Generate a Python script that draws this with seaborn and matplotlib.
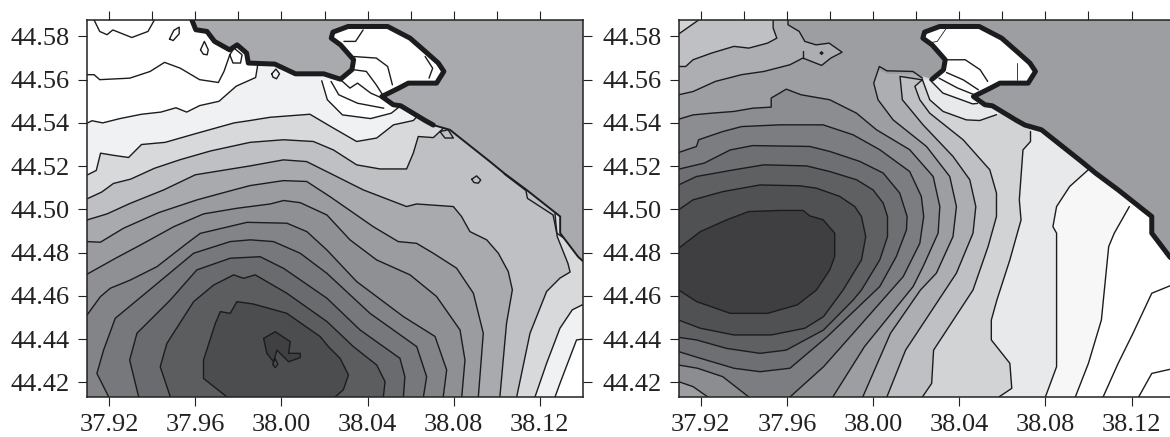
import pandas as pd
import matplotlib.pyplot as plt
import seaborn as sns

# Axis ranges and ticks (degrees)
LON0, LON1 = 37.9097, 38.14
LAT0, LAT1 = 44.4132, 44.5876
lon_ticks = [37.92, 37.96, 38.00, 38.04, 38.08, 38.12]
lon_minor = [37.94, 37.98, 38.02, 38.06, 38.10]
lat_ticks = [44.42, 44.44, 44.46, 44.48, 44.50, 44.52, 44.54, 44.56, 44.58]

# Coastline
coast_west = [(37.9584, 44.5876), (37.9602, 44.5831), (37.9654, 44.5823), (37.9689, 44.5777), (37.9759, 44.5738),
              (37.9794, 44.5761), (37.9838, 44.5723), (37.9846, 44.5677), (37.9969, 44.5672), (38.0065, 44.5627),
              (38.0196, 44.5627), (38.0274, 44.5602)]
coast_bay = [(38.0274, 44.5602), (38.0327, 44.5646), (38.0335, 44.5692), (38.0274, 44.5761), (38.0231, 44.5792),
             (38.0239, 44.5820), (38.0309, 44.5846), (38.0493, 44.5846), (38.0597, 44.5792), (38.0667, 44.5731),
             (38.0728, 44.5677), (38.0754, 44.5638), (38.0720, 44.5584), (38.0589, 44.5584), (38.0545, 44.5561),
             (38.0466, 44.5522), (38.0519, 44.5484), (38.0554, 44.5479), (38.0667, 44.5411), (38.0705, 44.5390)]
coast_east = [(38.0705, 44.5390), (38.0782, 44.5368), (38.0968, 44.5221), (38.1034, 44.5167), (38.1138, 44.5090),
              (38.1294, 44.4967), (38.1294, 44.4890), (38.1377, 44.4781), (38.14, 44.476)]

# Waypoints on land, used to close the fills around the bay
bay_land = [(38.08, 44.55), (38.08, 44.59), (38.022, 44.59), (38.022, 44.565), (38.0274, 44.5602)]

# Left panel isolines, light to dark
l1a = [(37.910, 44.540), (37.912, 44.541), (37.917, 44.540), (37.925, 44.542), (37.935, 44.544), (37.944, 44.545),
       (37.951, 44.547), (37.956, 44.545), (37.962, 44.548), (37.971, 44.550), (37.979, 44.557), (37.988, 44.561),
       (37.989, 44.567)]
l1b = [(38.14, 44.440), (38.137, 44.4396), (38.1293, 44.4195), (38.127, 44.4132)]
l2a = [(37.910, 44.516), (37.914, 44.518), (37.916, 44.526), (37.922, 44.525), (37.929, 44.524), (37.935, 44.530),
       (37.946, 44.531), (37.960, 44.535), (37.978, 44.540), (37.9854, 44.5411), (37.9947, 44.5426), (38.0132, 44.544),
       (38.0241, 44.5376), (38.0349, 44.5314), (38.0442, 44.533), (38.052, 44.5391), (38.0612, 44.5411), (38.064, 44.544)]
l2b = [(38.14, 44.456), (38.135, 44.4535), (38.1293, 44.445), (38.1231, 44.4288), (38.1177, 44.4132)]
l3a = [(37.910, 44.505), (37.9165, 44.508), (37.922, 44.512), (37.930, 44.514), (37.941, 44.519), (37.953, 44.523),
       (37.967, 44.527), (37.9854, 44.531), (38.0009, 44.5322), (38.0148, 44.5314), (38.0241, 44.5275), (38.0349, 44.5206),
       (38.0457, 44.5187), (38.0581, 44.5187), (38.0612, 44.526), (38.0635, 44.5337), (38.0705, 44.5332), (38.0744, 44.5368),
       (38.077, 44.540)]
l3b = [(38.127, 44.498), (38.128, 44.4875), (38.133, 44.475), (38.134, 44.471), (38.1293, 44.4682), (38.1231, 44.462),
       (38.1154, 44.4427), (38.1092, 44.4132)]
l4 = [(37.9097, 44.4951), (37.919, 44.4979), (37.9298, 44.5028), (37.9453, 44.509), (37.960, 44.516), (37.9854, 44.5201),
      (38.0009, 44.5229), (38.0117, 44.5221), (38.0256, 44.5152), (38.038, 44.509), (38.0581, 44.5013), (38.0627, 44.5025),
      (38.0798, 44.5013), (38.0836, 44.4967), (38.0875, 44.4897), (38.0953, 44.4859), (38.1007, 44.4797), (38.1053, 44.4712),
      (38.1072, 44.4628), (38.1045, 44.4473), (38.1014, 44.4132)]
l5 = [(37.9097, 44.4851), (37.9159, 44.4848), (37.9267, 44.4913), (37.943, 44.4985), (37.9608, 44.5044), (37.9778, 44.509),
      (37.9854, 44.511), (38.0009, 44.5133), (38.0117, 44.5129), (38.0225, 44.5059), (38.0426, 44.492), (38.0542, 44.4851),
      (38.0627, 44.4843), (38.0705, 44.4797), (38.0813, 44.4728), (38.0891, 44.4612), (38.0937, 44.4427), (38.0914, 44.4132)]
l6 = [(37.9097, 44.470), (37.923, 44.4774), (37.9345, 44.4835), (37.95, 44.492), (37.9638, 44.4979), (37.9793, 44.5005),
      (37.9948, 44.5025), (38.001, 44.5041), (38.0087, 44.5031), (38.0211, 44.4974), (38.0318, 44.4859), (38.0442, 44.4766),
      (38.0597, 44.4697), (38.072, 44.4597), (38.0829, 44.4442), (38.0852, 44.4303), (38.0837, 44.4132)]
l7 = [(37.9097, 44.4511), (37.9159, 44.4596), (37.9205, 44.4635), (37.9298, 44.4673), (37.9422, 44.4735), (37.9561, 44.4843),
      (37.9623, 44.4889), (37.984, 44.494), (38.0025, 44.4936), (38.0118, 44.4897), (38.0211, 44.4812), (38.0349, 44.4666),
      (38.0566, 44.4504), (38.0713, 44.4412), (38.0767, 44.4257), (38.0751, 44.4132)]
l8 = [(37.9198, 44.4132), (37.9143, 44.4241), (37.9174, 44.4349), (37.9228, 44.4496), (37.9406, 44.4643), (37.9592, 44.4797),
      (37.9762, 44.4851), (37.9855, 44.4859), (37.9963, 44.4851), (38.0087, 44.4797), (38.0211, 44.4704), (38.0411, 44.4519),
      (38.0628, 44.4365), (38.0674, 44.4226), (38.0659, 44.4132)]
l9 = [(37.9337, 44.4132), (37.9295, 44.4303), (37.9329, 44.4427), (37.9484, 44.4581), (37.9607, 44.472), (37.9762, 44.4774),
      (37.9901, 44.4781), (38.001, 44.4727), (38.0211, 44.4589), (38.0365, 44.4442), (38.055, 44.4311), (38.0573, 44.4226),
      (38.0566, 44.4132)]
l10 = [(37.9484, 44.4132), (37.9437, 44.4272), (37.9468, 44.438), (37.9592, 44.4573), (37.9685, 44.465), (37.9778, 44.4697),
       (37.9824, 44.4681), (37.9878, 44.4697), (38.0025, 44.4612), (38.0211, 44.4481), (38.0334, 44.4365), (38.0442, 44.428),
       (38.0481, 44.4203), (38.0473, 44.4132)]
l11 = [(37.9747, 44.4132), (37.9638, 44.4218), (37.9638, 44.4303), (37.9693, 44.4473), (37.9716, 44.4527), (37.9762, 44.4519),
       (37.9793, 44.4573), (37.987, 44.4562), (38.0025, 44.4519), (38.0179, 44.4412), (38.0218, 44.4365), (38.0272, 44.4311),
       (38.0311, 44.4234), (38.0287, 44.4165), (38.0249, 44.4132)]
l12 = [(37.9917, 44.4403), (37.9971, 44.4434), (38.0041, 44.4388), (38.0033, 44.4334), (38.0087, 44.4334), (38.0087, 44.4314),
       (38.0033, 44.4295), (37.9979, 44.4349), (37.9963, 44.4295), (37.9932, 44.4334), (37.9917, 44.4403)]
l_lobe = [(38.0187, 44.5595), (38.0213, 44.5507), (38.0283, 44.5437), (38.0414, 44.542), (38.051, 44.5445), (38.0545, 44.5473)]

# Left panel isolines that separate no visible shade
l_extra = [
    [(37.913, 44.5876), (37.9156, 44.5823), (37.919, 44.5808), (37.9217, 44.583), (37.9305, 44.5795), (37.938, 44.5823), (37.941, 44.5876)],
    [(37.9097, 44.5623), (37.913, 44.5623), (37.9156, 44.56), (37.9296, 44.5607), (37.939, 44.5638), (37.9457, 44.568), (37.953, 44.5653),
     (37.962, 44.56), (37.9707, 44.5587), (37.9733, 44.5638), (37.976, 44.5715)],
    [(37.948, 44.5788), (37.950, 44.5828), (37.9525, 44.5843), (37.9525, 44.5812), (37.9497, 44.5781), (37.948, 44.5788)],
    [(37.9624, 44.5738), (37.9642, 44.5777), (37.966, 44.5738), (37.9655, 44.5715), (37.9637, 44.5718), (37.9624, 44.5738)],
    [(37.976, 44.5715), (37.978, 44.5746), (37.9817, 44.5715), (37.981, 44.5677), (37.9775, 44.5677), (37.976, 44.5715)],
    [(37.9955, 44.5627), (37.9974, 44.5649), (37.9991, 44.5627), (37.9977, 44.5604), (37.996, 44.5612), (37.9955, 44.5627)],
    [(38.0883, 44.5139), (38.0906, 44.5155), (38.0925, 44.5136), (38.0914, 44.5121), (38.0894, 44.5124), (38.0883, 44.5139)],
    [(38.0736, 44.536), (38.0774, 44.5368), (38.0798, 44.533), (38.0759, 44.533), (38.0736, 44.536)],
    [(37.9959, 44.4283), (37.9971, 44.431), (37.9983, 44.4283), (37.9971, 44.4268), (37.9959, 44.4283)],
    [(38.0335, 44.5707), (38.044, 44.570), (38.0493, 44.5661), (38.0515, 44.5576)],
    [(38.0335, 44.5646), (38.0394, 44.5638), (38.044, 44.5576), (38.0476, 44.552)],
    [(38.023, 44.5592), (38.0266, 44.553), (38.0353, 44.5491), (38.0475, 44.5468)],
    [(38.0274, 44.56), (38.0318, 44.5561), (38.0353, 44.5584), (38.0414, 44.5538), (38.0466, 44.5515)],
    [(38.0379, 44.583), (38.0344, 44.5777), (38.029, 44.5777)],
    [(38.0667, 44.5707), (38.0702, 44.5653), (38.0685, 44.5607)],
    [(38.1034, 44.5164), (38.1135, 44.5087), (38.1142, 44.5051), (38.1261, 44.4974), (38.1278, 44.489), (38.1313, 44.4866)],
]

# Right panel isolines, light to dark
r_white = [(38.119, 44.5013), (38.112, 44.489), (38.1094, 44.4828), (38.106, 44.4488), (38.1, 44.4288), (38.0939, 44.4132)]
r_f7 = [(38.0999, 44.5183), (38.0913, 44.5106), (38.0852, 44.5013), (38.0835, 44.492), (38.0852, 44.489), (38.0852, 44.4272),
        (38.08, 44.4132)]
r_e8 = [(38.0731, 44.536), (38.0731, 44.5314), (38.0696, 44.5275), (38.0679, 44.5044), (38.0687, 44.4951), (38.0635, 44.4766),
        (38.0575, 44.4581), (38.0549, 44.4488), (38.0549, 44.4396), (38.0635, 44.4288), (38.0644, 44.4172), (38.0584, 44.4132)]
r_d2 = [(38.0229, 44.56), (38.0194, 44.5569), (38.0217, 44.5507), (38.0263, 44.5445), (38.0418, 44.5322), (38.0542, 44.5183),
        (38.0573, 44.5075), (38.0573, 44.4967), (38.0534, 44.4828), (38.0464, 44.4627), (38.0281, 44.4349),
        (38.0272, 44.4195), (38.0229, 44.4132)]
r_bf = [(38.0229, 44.5599), (38.0125, 44.5615), (38.0136, 44.5507), (38.0232, 44.5391), (38.0371, 44.5245), (38.0449, 44.5137),
        (38.0477, 44.5013), (38.0464, 44.489), (38.0387, 44.4705), (38.0151, 44.4349), (38.0064, 44.4132)]
r_ad = [(38.0229, 44.5607), (38.0185, 44.5638), (38.0064, 44.5641), (38.0029, 44.5661), (38.0003, 44.5584), (38.0023, 44.5507),
        (38.0093, 44.5414), (38.0248, 44.5291), (38.0356, 44.5152), (38.0387, 44.5013), (38.0371, 44.4874), (38.0294, 44.4705),
        (38.022, 44.4627), (38.0081, 44.4427), (37.9952, 44.4132)]
r_lobe_e8 = [(38.0229, 44.56), (38.0263, 44.5507), (38.0325, 44.5453), (38.0433, 44.5414), (38.0495, 44.5411), (38.0573, 44.5438)]
r_lobe_f7 = [(38.0263, 44.56), (38.0324, 44.5538), (38.0462, 44.5488), (38.0485, 44.549)]
r_lobe_w = [(38.0306, 44.5607), (38.0393, 44.5561), (38.0471, 44.553)]
r_nw_ad = [(37.9097, 44.553), (37.9164, 44.5545), (37.9268, 44.5592), (37.9389, 44.5623), (37.9493, 44.5638), (37.9614, 44.5669),
           (37.9674, 44.57), (37.9761, 44.5666), (37.9804, 44.57), (37.9856, 44.5727), (37.9796, 44.5769), (37.9735, 44.5761),
           (37.9683, 44.5777), (37.9657, 44.5823), (37.9605, 44.5854), (37.9605, 44.5876)]
r_nw_bf = [(37.9097, 44.5661), (37.913, 44.5661), (37.9164, 44.5692), (37.925, 44.5723), (37.9354, 44.5754), (37.9423, 44.5746),
           (37.951, 44.5769), (37.9553, 44.5792), (37.9536, 44.5839), (37.9536, 44.5876)]
r_nw_d2 = [(37.9097, 44.5811), (37.919, 44.5876)]
d6 = [(37.9097, 44.5417), (37.9164, 44.5437), (37.925, 44.5445), (37.9354, 44.5453), (37.9441, 44.5468), (37.9527, 44.5473),
      (37.9527, 44.5515), (37.9597, 44.5556), (37.9666, 44.553), (37.9799, 44.5507), (37.9923, 44.5445), (38.0016, 44.5368),
      (38.017, 44.5276), (38.0279, 44.5152), (38.031, 44.5013), (38.0302, 44.489), (38.0232, 44.4735), (38.0186, 44.4643),
      (37.996, 44.4365), (37.9813, 44.4132), (37.9233, 44.4132), (37.9164, 44.418), (37.9097, 44.4203)]
d5 = [(37.9097, 44.5263), (37.918, 44.5291), (37.919, 44.5322), (37.9302, 44.536), (37.9389, 44.5383), (37.9567, 44.5391),
      (37.9768, 44.5391), (37.9907, 44.5345), (38.0031, 44.5276), (38.017, 44.5175), (38.0224, 44.506), (38.0235, 44.4967),
      (38.0217, 44.4843), (38.014, 44.4689), (37.9908, 44.4427), (37.977, 44.4272), (37.9614, 44.4132),
      (37.9423, 44.4132), (37.9302, 44.4226), (37.9185, 44.4265), (37.9097, 44.428)]
d4 = [(37.9097, 44.5186), (37.9216, 44.5214), (37.9337, 44.5275), (37.9441, 44.5295), (37.9706, 44.5291), (37.9799, 44.5268),
      (37.9938, 44.5222), (38.0047, 44.5168), (38.0124, 44.5075), (38.0158, 44.4967), (38.0155, 44.4905), (38.0108, 44.4782),
      (38.0031, 44.4643), (37.9787, 44.4411), (37.9614, 44.4265), (37.9475, 44.4249), (37.9354, 44.4265),
      (37.9198, 44.4311), (37.9097, 44.4342)]
d3 = [(37.9097, 44.5113), (37.918, 44.5152), (37.9354, 44.5183), (37.9493, 44.5206), (37.9691, 44.5201), (37.9799, 44.5175),
      (37.9923, 44.5137), (38.0, 44.509), (38.0047, 44.5029), (38.0067, 44.4967), (38.0067, 44.4874), (38.0031, 44.4766),
      (37.9946, 44.4627), (37.9908, 44.4581), (37.977, 44.4442), (37.9597, 44.4349), (37.9475, 44.4334), (37.9319, 44.4357),
      (37.918, 44.4396), (37.9097, 44.4408)]
d2 = [(37.9097, 44.4998), (37.9164, 44.5044), (37.9302, 44.5082), (37.9475, 44.5113), (37.966, 44.5109), (37.9737, 44.5098),
      (37.9845, 44.506), (37.9915, 44.5013), (37.9946, 44.4967), (37.9966, 44.4874), (37.9946, 44.4766), (37.9861, 44.4627),
      (37.977, 44.4504), (37.9683, 44.445), (37.9527, 44.4419), (37.9354, 44.4419), (37.9198, 44.445), (37.9097, 44.4488)]
d1 = [(37.9097, 44.482), (37.9198, 44.4897), (37.9319, 44.4951), (37.9423, 44.499), (37.9567, 44.4995), (37.9675, 44.4995),
      (37.9706, 44.497), (37.9768, 44.4952), (37.9822, 44.489), (37.9822, 44.4782), (37.9799, 44.472), (37.9737, 44.4627),
      (37.9648, 44.4558), (37.951, 44.4519), (37.9337, 44.4519), (37.9181, 44.4573), (37.9097, 44.4627)]

# Right panel isolines that separate no visible shade
r_extra = [
    [(38.14, 44.4655), (38.1294, 44.4612), (38.1207, 44.4427), (38.1138, 44.4288), (38.1068, 44.4132)],
    [(38.14, 44.4265), (38.1294, 44.4241), (38.1233, 44.4132)],
    [(38.0332, 44.5692), (38.0428, 44.5692), (38.0497, 44.5646), (38.0532, 44.5592)],
    [(38.0341, 44.5633), (38.0419, 44.5599), (38.0489, 44.5553)],
    [(37.9674, 44.5731), (37.9674, 44.57)],
    [(37.9755, 44.5723), (37.9761, 44.5729), (37.9767, 44.5723), (37.9761, 44.5717), (37.9755, 44.5723)],
]
r_thin = [
    [(38.0255, 44.5769), (38.0298, 44.5777), (38.0341, 44.5839)],
    [(38.067, 44.5678), (38.067, 44.5598)],
]

# Band colours
land_left = "#a9aaad"
land_right = "#9d9ea1"
left_colors = ["#f0f1f3", "#d8d9db", "#bfc0c3", "#a9aaad", "#9b9ca0", "#8f9093",
               "#838487", "#77787b", "#6a6b6e", "#5c5d5f", "#4c4d4f", "#404042"]
right_colors = ["#f7f7f8", "#e8e9ea", "#d2d3d5", "#bfc0c3", "#adaeb1", "#9d9ea1",
                "#8c8d90", "#7c7d80", "#6e6f72", "#5f6062", "#505153", "#3f3f41"]

sns.set_style("ticks")
plt.rcParams["font.family"] = ["Liberation Serif", "DejaVu Serif"]

BL = [(LON0 - 0.001, LAT0 - 0.001)]
TL = [(LON0 - 0.001, LAT1 + 0.001)]
TR = [(LON1 + 0.001, LAT1 + 0.001)]


def left_of(line):
    # everything west of a line that runs from the coast to the bottom edge
    return line + BL + TL + [(line[0][0], LAT1 + 0.001)]


def fill(ax, pts, color, z=1):
    ax.fill([p[0] for p in pts], [p[1] for p in pts], color=color, lw=0, zorder=z)


def draw_lines(ax, lines, lw=1.0, z=2):
    rows = []
    for i, line in enumerate(lines):
        rows += [{"line": i, "lon": p[0], "lat": p[1]} for p in line]
    sns.lineplot(data=pd.DataFrame(rows), x="lon", y="lat", units="line", estimator=None, sort=False,
                 color="#1c1c1e", lw=lw, ax=ax, zorder=z, legend=False)


def style_axes(ax):
    ax.set_xlim(LON0, LON1)
    ax.set_ylim(LAT0, LAT1)
    ax.set_xticks(lon_ticks)
    ax.set_xticklabels([f"{v:.2f}" for v in lon_ticks])
    ax.set_xticks(lon_minor, minor=True)
    ax.set_yticks(lat_ticks)
    ax.set_yticklabels([f"{v:.2f}" for v in lat_ticks])
    ax.tick_params(which="major", length=6.3, width=0.8, labelsize=19, color="#222222", labelcolor="#222222",
                   top=True, right=True, bottom=True, left=True, pad=6)
    ax.tick_params(which="minor", length=6.3, width=0.8, color="#222222", top=True, bottom=False)
    ax.set_xlabel("")
    ax.set_ylabel("")
    for s in ax.spines.values():
        s.set_linewidth(1.1)
        s.set_color("#222222")
        s.set_zorder(6)


fig = plt.figure(figsize=(11.7, 4.37), dpi=100)
ax1 = fig.add_axes([87 / 1170, 40 / 437, 496 / 1170, 377 / 437])
ax2 = fig.add_axes([678.6 / 1170, 40 / 437, 496 / 1170, 377 / 437])

# Left panel
left_polys = [l1a + TR + l1b + BL, l2a + TR + l2b + BL, l3a + l3b + BL, l4 + BL, l5 + BL, l6 + BL, l7 + BL,
              l8, l9, l10, l11, l12]
for pts, c in zip(left_polys, left_colors):
    fill(ax1, pts, c)
fill(ax1, l_lobe + bay_land, "white")
fill(ax1, coast_west + coast_bay + coast_east + TR, land_left, z=3)
draw_lines(ax1, [l1a, l1b, l2a, l2b, l3a, l3b, l4, l5, l6, l7, l8, l9, l10, l11, l12, l_lobe] + l_extra)
draw_lines(ax1, [coast_west + coast_bay], lw=3.6, z=4)
draw_lines(ax1, [coast_east], lw=1.4, z=4)
style_axes(ax1)

# Right panel: land shares its shade with the open water, so isolines stay visible across it
for line, c in zip([r_white, r_f7, r_e8], right_colors[:3]):
    fill(ax2, left_of(line), c)
fill(ax2, r_lobe_e8 + bay_land, right_colors[1])
fill(ax2, r_lobe_f7 + bay_land, right_colors[0])
fill(ax2, r_lobe_w + bay_land, "white")
for line, c in zip([r_d2, r_bf, r_ad], right_colors[3:6]):
    fill(ax2, left_of(line), c)
fill(ax2, coast_west + coast_bay + coast_east + TR, land_right)
fill(ax2, r_nw_ad + TL, right_colors[4])
fill(ax2, r_nw_bf + TL, right_colors[3])
fill(ax2, r_nw_d2 + TL, right_colors[2])
for line, c in zip([d6, d5, d4, d3, d2, d1], right_colors[6:]):
    fill(ax2, line, c)
draw_lines(ax2, [r_white, r_f7, r_e8, r_d2, r_bf, r_ad, r_lobe_e8, r_lobe_f7, r_lobe_w, r_nw_ad, r_nw_bf, r_nw_d2,
                 d6[:20], d6[20:], d5[:17], d5[17:], d4, d3, d2, d1] + r_extra)
draw_lines(ax2, r_thin, lw=0.6)
draw_lines(ax2, [coast_bay + coast_east], lw=3.6, z=4)
style_axes(ax2)

plt.savefig("out.png", dpi=100)
plt.close()
